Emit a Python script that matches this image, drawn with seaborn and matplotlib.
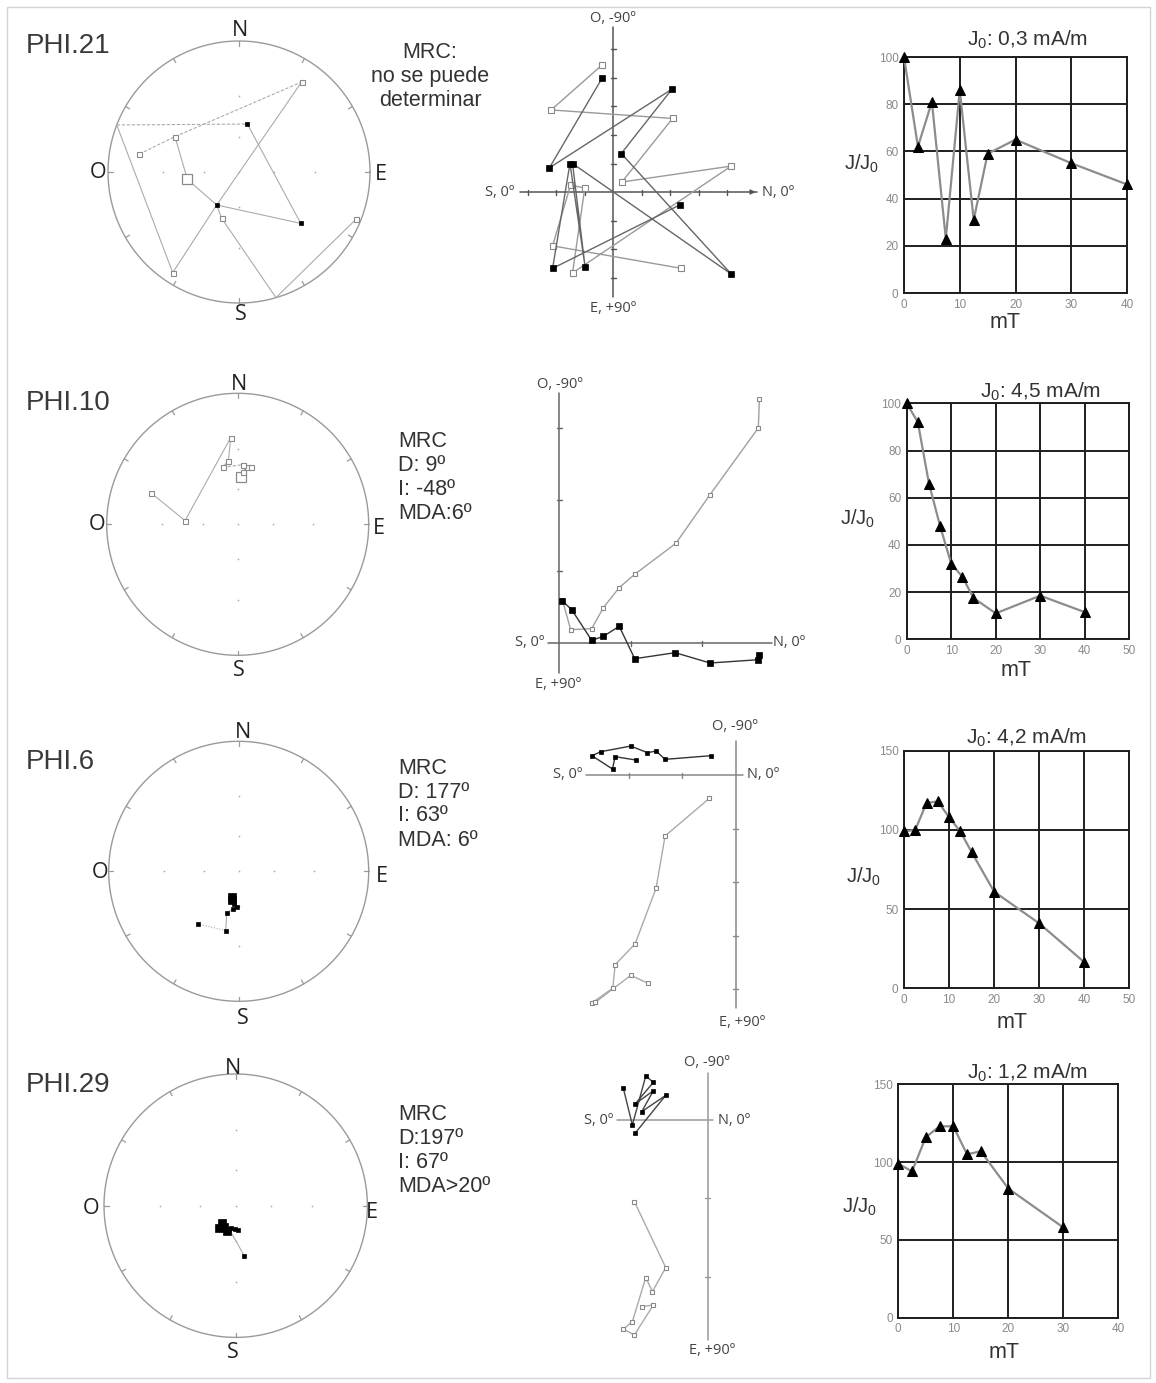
import numpy as np
import pandas as pd
import matplotlib
matplotlib.use('Agg')
import matplotlib.pyplot as plt
import seaborn as sns
from matplotlib.patches import Rectangle

# ======================= DATA =======================
# --- Stereonets: points in unit-circle coords (east, north) ---
# kind: o = open (upper hemisphere), O = open first step (large),
#       f = filled (lower hemisphere), F = filled large, e = crossing at primitive
st21_x = [-0.394, -0.761, -0.489, 0.478, -0.933, 0.064, -0.170, -0.132, 0.471, -0.506, 0.893, 0.282]
st21_y = [-0.056, 0.137, 0.270, 0.687, 0.359, 0.366, -0.252, -0.354, -0.392, -0.768, -0.361, -0.959]
st21_kind = ['O', 'o', 'o', 'o', 'e', 'f', 'f', 'o', 'f', 'o', 'o', 'e']
st21_paths = [([1, 2, 3], '--'), ([3, 6, 9, 4], '-'), ([4, 5], '--'), ([5, 8, 6], '-'),
              ([2, 0, 6, 7, 11, 10], '-')]

st10_x = [0.025, 0.038, 0.069, 0.099, 0.038, -0.115, -0.071, -0.053, -0.402, -0.664]
st10_y = [0.359, 0.397, 0.440, 0.440, 0.455, 0.435, 0.486, 0.662, 0.028, 0.242]
st10_kind = ['O', 'o', 'o', 'o', 'o', 'o', 'o', 'o', 'o', 'o']
st10_paths = [([0, 1, 2, 3], '-'), ([3, 4, 5], '--'), ([5, 6, 7, 8, 9], '-')]

st6_x = [-0.054, -0.049, -0.036, -0.015, -0.041, -0.092, -0.100, -0.315]
st6_y = [-0.195, -0.221, -0.251, -0.277, -0.290, -0.318, -0.456, -0.405]
st6_kind = ['F', 'F', 'f', 'f', 'f', 'f', 'f', 'f']
st6_paths = [([0, 1, 2, 3, 4, 5, 6], '-'), ([6, 7], ':')]

st29_x = [-0.106, -0.124, -0.089, -0.068, -0.038, -0.005, 0.020, -0.048, 0.066]
st29_y = [-0.134, -0.172, -0.159, -0.190, -0.172, -0.180, -0.185, -0.180, -0.382]
st29_kind = ['F', 'F', 'F', 'F', 'f', 'f', 'f', 'f', 'f']
st29_paths = [([0, 1, 2, 3, 4, 5, 6, 7, 8], '-')]

# --- Zijderveld diagrams (units of axis ticks): horizontal (filled) and vertical (open) ---
z21_fx = [-0.38, -2.23, 2.07, 0.29, 4.15, -1.42, -0.98, -1.51, -2.12, 2.35]
z21_fy = [4.00, 0.85, 3.61, 1.35, -2.88, 1.00, -2.62, 1.00, -2.68, -0.45]
z21_ox = [-0.38, -2.17, 2.09, 0.31, 4.15, -1.42, -0.99, -1.49, -2.12, 2.40]
z21_oy = [4.46, 2.88, 2.58, 0.35, 0.91, -2.84, 0.14, 0.24, -1.89, -2.68]

z10_fx = [0.047, 0.177, 0.456, 0.619, 0.84, 1.056, 1.62, 2.107, 2.78, 2.795]
z10_fy = [0.586, 0.465, 0.037, 0.093, 0.233, -0.219, -0.135, -0.279, -0.233, -0.172]
z10_ox = [0.047, 0.163, 0.456, 0.619, 0.84, 1.056, 1.63, 2.10, 2.78, 2.795]
z10_oy = [0.600, 0.186, 0.200, 0.493, 0.772, 0.958, 1.39, 2.06, 3.00, 3.41]

z6_fx = [-0.472, -1.323, -1.491, -1.652, -1.963, -2.522, -2.689, -2.304, -2.255, -1.870]
z6_fy = [0.360, 0.292, 0.447, 0.416, 0.540, 0.435, 0.360, 0.112, 0.342, 0.280]
z6_ox = [-0.497, -1.323, -1.491, -1.882, -2.255, -2.298, -2.689, -2.627, -1.963, -1.646]
z6_oy = [-0.435, -1.137, -2.112, -3.149, -3.540, -3.975, -4.255, -4.242, -3.739, -3.882]

z29_fx = [-1.077, -0.962, -0.791, -0.694, -0.928, -0.694, -0.843, -0.536, -0.928]
z29_fy = [0.404, -0.064, 0.562, 0.481, 0.204, 0.374, 0.106, 0.315, -0.170]
z29_ox = [-0.936, -0.536, -0.706, -0.791, -0.962, -1.077, -0.936, -0.694, -0.834]
z29_oy = [-1.043, -1.885, -2.191, -2.013, -2.574, -2.672, -2.745, -2.362, -2.383]

# --- AF demagnetisation curves ---
mt_21 = [0, 2.5, 5, 7.5, 10, 12.5, 15, 20, 30, 40]
jj_21 = [100, 62, 81, 23, 86, 31, 59, 65, 55, 46]
mt_10 = [0, 2.5, 5, 7.5, 10, 12.5, 15, 20, 30, 40]
jj_10 = [100, 92, 66, 48, 32, 26.5, 17.5, 11, 18.5, 11.5]
mt_6 = [0, 2.5, 5, 7.5, 10, 12.5, 15, 20, 30, 40]
jj_6 = [99, 100, 117, 118, 108, 99, 86, 61, 41, 16.5]
mt_29 = [0, 2.5, 5, 7.5, 10, 12.5, 15, 20, 30]
jj_29 = [99, 94, 116, 123, 123, 105, 107, 83, 58]

samples = ['PHI.21', 'PHI.10', 'PHI.6', 'PHI.29']
j0_titles = ['J$_0$: 0,3 mA/m', 'J$_0$: 4,5 mA/m', 'J$_0$: 4,2 mA/m', 'J$_0$: 1,2 mA/m']
mrc_texts = [['MRC:', 'no se puede', 'determinar'],
             ['MRC', 'D: 9º', 'I: -48º', 'MDA:6º'],
             ['MRC', 'D: 177º', 'I: 63º', 'MDA: 6º'],
             ['MRC', 'D:197º', 'I: 67º', 'MDA>20º']]
grid_incl = [30, 60]  # reference inclinations marked with dots on the net

# ======================= STYLE / FIGURE =======================
sns.set_theme(style='white')
plt.rcParams['font.family'] = ['Liberation Sans', 'DejaVu Sans']
plt.rcParams['mathtext.default'] = 'regular'

W, H = 1156, 1383
fig = plt.figure(figsize=(W / 100, H / 100), dpi=100)
fig.patch.set_facecolor('white')


def px_axes(x0, y0, x1, y1):
    return fig.add_axes([x0 / W, 1 - y1 / H, (x1 - x0) / W, (y1 - y0) / H])


def ftext(x, y, s, **kw):
    fig.text(x / W, 1 - y / H, s, **kw)


fig.add_artist(Rectangle((7 / W, 1 - 1378 / H), (1150 - 7) / W, (1378 - 7) / H,
                         transform=fig.transFigure, fill=False, edgecolor='#d4d4d4', lw=1.0))

# ---------- stereonets ----------
STYLE = {
    'o': dict(marker='s', ms=3.6, mfc='white', mec='#8a8a8a', mew=0.8),
    'O': dict(marker='s', ms=7.0, mfc='white', mec='#8a8a8a', mew=0.9),
    'f': dict(marker='s', ms=3.4, mfc='black', mec='black', mew=0.5),
    'F': dict(marker='s', ms=5.2, mfc='black', mec='black', mew=0.5),
}
LS = {'-': '-', '--': (0, (3, 1.5)), ':': (0, (1, 1.5))}


def draw_stereonet(cx, cy, r, xs, ys, kinds, paths, labels_pos):
    pad = 1.15
    ax = px_axes(cx - pad * r, cy - pad * r, cx + pad * r, cy + pad * r)
    ax.set_xlim(-pad, pad)
    ax.set_ylim(-pad, pad)
    ax.set_aspect('equal')
    ax.axis('off')
    t = np.linspace(0, 2 * np.pi, 500)
    ax.plot(np.cos(t), np.sin(t), color='#9a9a9a', lw=1.0)
    for a in np.deg2rad(np.arange(0, 360, 30)):
        ax.plot([0.965 * np.sin(a), np.sin(a)], [0.965 * np.cos(a), np.cos(a)],
                color='#9a9a9a', lw=0.9)
    rr = [np.tan(np.deg2rad((90 - i) / 2)) for i in grid_incl]
    dx = [0] + [s * q for q in rr for s in (-1, 1)] + [0] * 4
    dy = [0] + [0] * 4 + [s * q for q in rr for s in (-1, 1)]
    ax.scatter(dx, dy, s=1.5, color='#aaaaaa', linewidths=0)
    for idx, ls in paths:
        ax.plot([xs[i] for i in idx], [ys[i] for i in idx], color='#ababab', lw=0.8,
                linestyle=LS[ls])
    for x, y, k in zip(xs, ys, kinds):
        if k in STYLE:
            ax.plot([x], [y], ls='none', **STYLE[k])
    for (lx, ly), s in zip(labels_pos, ['N', 'O', 'E', 'S']):
        ftext(lx, ly, s, ha='center', va='center', fontsize=15.5, color='#222222',
              family=['Open Sans', 'DejaVu Sans'])


draw_stereonet(239, 172, 131, st21_x, st21_y, st21_kind, st21_paths,
               [(240, 31), (98, 172), (381, 174), (241, 315)])
draw_stereonet(237.7, 524.3, 131, st10_x, st10_y, st10_kind, st10_paths,
               [(239, 385), (97, 525), (379, 528), (239, 671)])
draw_stereonet(238.7, 871.3, 130, st6_x, st6_y, st6_kind, st6_paths,
               [(243, 733), (100, 873), (382, 876), (243, 1018)])
draw_stereonet(235.7, 1205.7, 131.7, st29_x, st29_y, st29_kind, st29_paths,
               [(233, 1068), (91, 1208), (372, 1213), (233, 1353)])

# sample names
for s, y in zip(samples, [46, 403, 762, 1085]):
    ftext(26, y, s, ha='left', va='center', fontsize=20, color='#3a3a3a')

# MRC text
for i, s in enumerate(mrc_texts[0]):
    ftext(430, 53 + 23.5 * i, s, ha='center', va='center', fontsize=15.5, color='#333333')
for lines, y0 in zip(mrc_texts[1:], [441.5, 768, 1115]):
    for i, s in enumerate(lines):
        ftext(398, y0 + 24 * i, s, ha='left', va='center', fontsize=15.5, color='#333333')


# ---------- Zijderveld diagrams ----------
def draw_zij(o, u, hext, vext, xt, yt, fxs, fys, oxs, oys, ms_f, ms_o, axcol,
             fcol, ocol, lab, arrow=False):
    ox, oy = o
    m = 0.6
    xmin, xmax = hext[0] - m, hext[1] + m
    ymin, ymax = vext[0] - m, vext[1] + m
    ax = px_axes(ox + xmin * u, oy - ymax * u, ox + xmax * u, oy - ymin * u)
    ax.set_xlim(xmin, xmax)
    ax.set_ylim(ymin, ymax)
    ax.axis('off')
    ax.plot(hext, [0, 0], color=axcol, lw=1.1)
    ax.plot([0, 0], vext, color=axcol, lw=1.1)
    tl = 2.5 / u
    for t in xt:
        ax.plot([t, t], [-tl, tl], color=axcol, lw=1.0)
    for t in yt:
        ax.plot([-tl, tl], [t, t], color=axcol, lw=1.0)
    if arrow:
        ax.annotate('', xy=(hext[1] + 0.05, 0), xytext=(hext[1] - 0.3, 0),
                    arrowprops=dict(arrowstyle='-|>', color=axcol, lw=1.0, mutation_scale=7))
    ax.plot(oxs, oys, color=ocol, lw=1.0, marker='s', ms=ms_o, mfc='white', mec='#888888',
            mew=0.8, clip_on=False)
    ax.plot(fxs, fys, color=fcol, lw=1.0, marker='s', ms=ms_f, mfc='black', mec='black',
            mew=0.5, clip_on=False)
    fnt = dict(fontsize=10.5, color='#444444', family=['Open Sans', 'DejaVu Sans'])
    (tx, ty), (bx, by), (sx, sy), (nx, ny) = lab
    ftext(tx, ty, 'O, -90º', ha='center', va='center', **fnt)
    ftext(bx, by, 'E, +90º', ha='center', va='center', **fnt)
    ftext(sx, sy, 'S, 0º', ha='right', va='center', **fnt)
    ftext(nx, ny, 'N, 0º', ha='left', va='center', **fnt)


draw_zij((613, 192), 28.5, (-3.26, 5.05), (-3.68, 5.79), [-3, -2, -1, 1, 2, 3, 4],
         [-3, -2, -1, 1, 2, 3, 4, 5], z21_fx, z21_fy, z21_ox, z21_oy, 4.3, 3.9,
         '#555555', '#666666', '#9a9a9a',
         [(613, 18), (613, 308), (514, 193), (762, 192)], arrow=True)
draw_zij((559, 643), 71.7, (-0.15, 2.97), (-0.42, 3.49), [1, 2], [1, 2, 3],
         z10_fx, z10_fy, z10_ox, z10_oy, 3.7, 3.5, '#666666', '#333333', '#a0a0a0',
         [(560, 385), (558, 685), (544, 643), (773, 643)])
draw_zij((736, 775), 53.6, (-2.8, 0.13), (-4.35, 0.64), [-2, -1], [-1, -2, -3, -4],
         z6_fx, z6_fy, z6_ox, z6_oy, 2.8, 2.4, '#888888', '#333333', '#aaaaaa',
         [(735, 726), (742, 1023), (582, 775), (747, 775)])
draw_zij((707.7, 1120), 78.3, (-1.16, 0.07), (-2.81, 0.6), [], [-1, -2],
         z29_fx, z29_fy, z29_ox, z29_oy, 2.6, 2.3, '#999999', '#444444', '#aaaaaa',
         [(707, 1063), (712, 1350), (613, 1120), (718, 1120)])


# ---------- AF demagnetisation curves ----------
def draw_demag(box, xs, ys, xmax, ymax, xstep, ystep, title, tpos, ylpos, xlpos):
    ax = px_axes(*box)
    df = pd.DataFrame({'mT': xs, 'J': ys})
    sns.lineplot(data=df, x='mT', y='J', ax=ax, color='#8c8c8c', lw=1.6, marker='^',
                 markersize=7.5, markerfacecolor='black', markeredgecolor='black',
                 clip_on=False, zorder=5)
    ax.set_xlim(0, xmax)
    ax.set_ylim(0, ymax)
    ax.set_xticks(np.arange(0, xmax + 1, xstep))
    ax.set_yticks(np.arange(0, ymax + 1, ystep))
    ax.grid(True, color='#1e1e1e', lw=1.4)
    for sp in ax.spines.values():
        sp.set_visible(True)
        sp.set_color('#1e1e1e')
        sp.set_linewidth(1.4)
    ax.tick_params(length=0, labelsize=8.5, labelcolor='#8a8a8a', pad=4)
    ax.set_xlabel('')
    ax.set_ylabel('')
    ftext(tpos[0], tpos[1], title, ha='center', va='center', fontsize=15, color='#333333')
    ftext(ylpos[0], ylpos[1], 'J/J$_0$', ha='center', va='center', fontsize=14.5, color='#333333')
    ftext(xlpos[0], xlpos[1], 'mT', ha='center', va='center', fontsize=15.5, color='#333333')


draw_demag((904, 57, 1127, 293), mt_21, jj_21, 40, 100, 10, 20, j0_titles[0],
           (1027, 40), (862, 164), (1005, 323))
draw_demag((906.7, 403.3, 1129.3, 639.3), mt_10, jj_10, 50, 100, 10, 20, j0_titles[1],
           (1040, 392), (858, 519), (1016, 671))
draw_demag((904, 750.7, 1129.3, 988.3), mt_6, jj_6, 50, 150, 10, 50, j0_titles[2],
           (1026, 738), (864, 877), (1012, 1022))
draw_demag((898.3, 1084.3, 1118.3, 1317.7), mt_29, jj_29, 40, 150, 10, 50, j0_titles[3],
           (1027, 1073), (860, 1207), (1004, 1352))

fig.savefig('out.png', dpi=100, facecolor='white')
